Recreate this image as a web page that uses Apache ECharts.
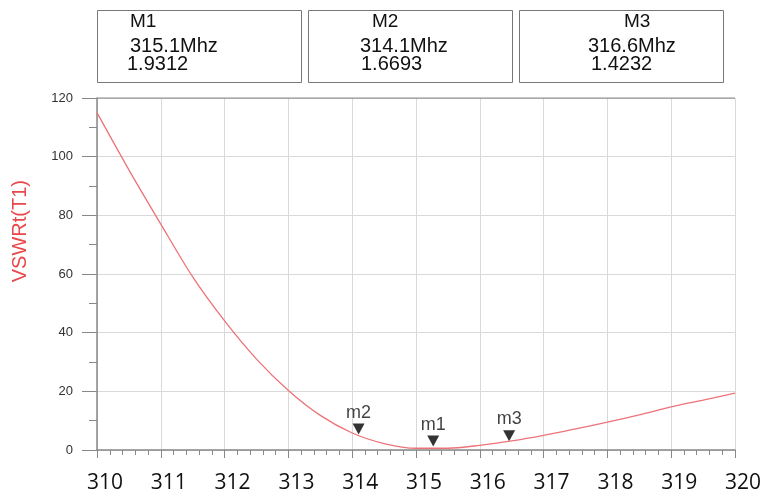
<!DOCTYPE html>
<html>
<head>
<meta charset="utf-8">
<script src="https://cdn.jsdelivr.net/npm/echarts@6/dist/echarts.min.js"></script>
<style>html,body{margin:0;padding:0;background:#fff;}#c{width:765px;height:498px;}</style>
</head>
<body>
<div id="c"></div>
<script>
// Frequency (MHz) and VSWR values
var freq = [310, 310.5, 311, 311.5, 312, 312.5, 313, 313.5, 314, 314.5, 315, 315.5, 316, 316.5, 317, 317.5, 318, 318.5, 319, 319.5, 320];
var vswr = [115, 95.5, 77, 59, 44, 31, 20.3, 11.8, 5.8, 2.2, 0.6, 0.6, 1.6, 3.1, 5.0, 7.2, 9.5, 12.0, 14.7, 17.0, 19.4];

// Markers on the curve
var markerNames = ['m1', 'm2', 'm3'];
var markerX = [315.27, 314.1, 316.46];
var markerY = [1.0, 5.1, 2.8];

// Marker readout boxes
var boxTitles = ['M1', 'M2', 'M3'];
var boxFreqs = ['315.1Mhz', '314.1Mhz', '316.6Mhz'];
var boxValues = ['1.9312', '1.6693', '1.4232'];

// Axis ticks
var xTicks = [310, 311, 312, 313, 314, 315, 316, 317, 318, 319, 320];
var yTicks = [0, 20, 40, 60, 80, 100, 120];

var chart = echarts.init(document.getElementById('c'), null, {renderer: 'canvas'});

var boxLayout = [
  {x: 97, w: 204, tx: 130, fx: 130, vx: 127},
  {x: 308, w: 204, tx: 372, fx: 360, vx: 361},
  {x: 519, w: 204, tx: 624, fx: 588, vx: 591}
];
var graphics = [];
for (var i = 0; i < 3; i++) {
  var b = boxLayout[i];
  graphics.push({type: 'rect', left: b.x, top: 10, shape: {width: b.w, height: 72},
    style: {fill: '#fff', stroke: '#777', lineWidth: 1}});
  graphics.push({type: 'text', left: b.tx, top: 12, style: {text: boxTitles[i], font: '19px "Liberation Sans", Arial', fill: '#111'}});
  graphics.push({type: 'text', left: b.fx, top: 36, style: {text: boxFreqs[i], font: '20px "Liberation Sans", Arial', fill: '#111'}});
  graphics.push({type: 'text', left: b.vx, top: 54, style: {text: boxValues[i], font: '20px "Liberation Sans", Arial', fill: '#111'}});
}
graphics.push({type: 'text', left: 10, top: 180, rotation: Math.PI / 2,
  style: {text: 'VSWRt(T1)', font: '20px "Liberation Sans", Arial', fill: '#e8474b'}});

var option = {
  animation: false,
  grid: {left: 97, right: 30, top: 98, bottom: 48, containLabel: false},
  xAxis: {
    type: 'value', min: 310, max: 320, interval: 1,
    axisLine: {show: true, lineStyle: {color: '#888', width: 1.5}},
    axisTick: {show: true, length: 8, lineStyle: {color: '#888'}},
    minorTick: {show: true, splitNumber: 5, length: 5, lineStyle: {color: '#888'}},
    splitLine: {show: true, lineStyle: {color: '#d9d9d9', width: 1}},
    axisLabel: {
      margin: 23, color: '#111', fontSize: 21, fontFamily: '"Open Sans", "Noto Sans", sans-serif',
      padding: [0, 0, 0, 16],
      formatter: function (v) { return xTicks.indexOf(v) >= 0 ? String(v) : ''; }
    }
  },
  yAxis: {
    type: 'value', min: 0, max: 120, interval: 20,
    axisLine: {show: true, lineStyle: {color: '#888', width: 1.5}},
    axisTick: {show: true, length: 15, lineStyle: {color: '#888'}},
    minorTick: {show: true, splitNumber: 2, length: 8, lineStyle: {color: '#888'}},
    splitLine: {show: true, lineStyle: {color: '#d9d9d9', width: 1}},
    axisLabel: {
      margin: 24, color: '#333', fontSize: 13, fontFamily: '"Liberation Sans", Arial',
      formatter: function (v) { return yTicks.indexOf(v) >= 0 ? String(v) : ''; }
    }
  },
  graphic: graphics,
  series: [
    {
      type: 'line', smooth: 0.3, showSymbol: false,
      data: freq.map(function (f, i) { return [f, vswr[i]]; }),
      lineStyle: {color: '#ec7378', width: 1.3}
    },
    {
      type: 'line', data: [[310, 120], [320, 120]], showSymbol: false, silent: true,
      lineStyle: {color: '#999', width: 1.3}
    },
    {
      type: 'scatter', symbol: 'triangle', symbolRotate: 180, symbolSize: [12, 11],
      symbolOffset: [0, -6],
      itemStyle: {color: '#000'},
      data: markerX.map(function (x, i) { return {value: [x, markerY[i]], name: markerNames[i]}; }),
      label: {show: true, position: 'top', distance: 2, formatter: '{b}', color: '#111', fontSize: 18,
        fontFamily: '"Liberation Sans", Arial'}
    }
  ]
};
chart.setOption(option);
</script>
</body>
</html>
